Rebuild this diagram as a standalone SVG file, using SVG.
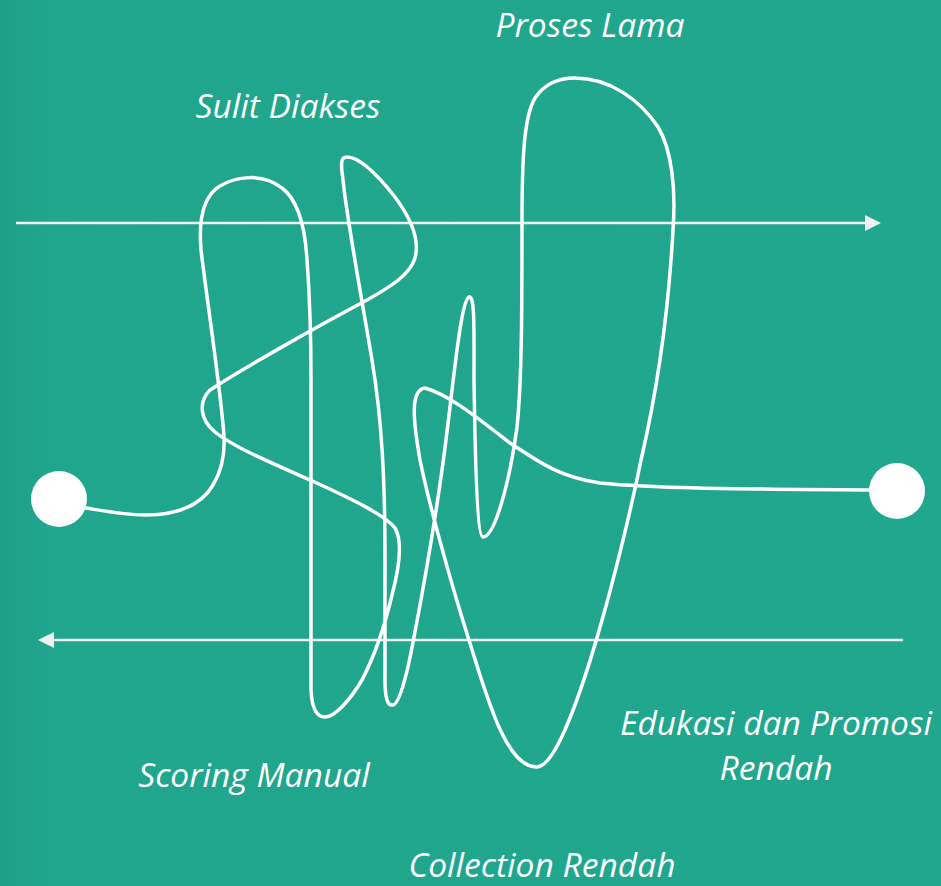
<svg xmlns="http://www.w3.org/2000/svg" width="941" height="886" viewBox="0 0 941 886">
  <defs>
    <linearGradient id="bg" x1="0" y1="0" x2="1" y2="0">
      <stop offset="0" stop-color="#1E9F87"/>
      <stop offset="0.05" stop-color="#20A68D"/>
      <stop offset="1" stop-color="#21A78E"/>
    </linearGradient>
    <marker id="head" viewBox="0 0 16 16" refX="1" refY="8" markerWidth="16" markerHeight="16" markerUnits="userSpaceOnUse" orient="auto">
      <path d="M0,0 L16,8 L0,16 Z" fill="#F0F0F0"/>
    </marker>
    <style>
      .arrow { stroke: #F0F0F0; stroke-width: 2.5; fill: none; }
      .curve { stroke: #FFFFFF; stroke-width: 3.5; fill: none; stroke-linecap: round; stroke-linejoin: round; }
      .dot { fill: #FFFFFF; }
      .label { font-family: "Open Sans", "Noto Sans", "Liberation Sans", sans-serif; font-style: italic; font-size: 33.6px; fill: #FFFFFF; text-anchor: middle; }
    </style>
  </defs>
  <rect width="941" height="886" fill="url(#bg)"/>

  <g id="connectors">
    <line class="arrow" x1="16" y1="223" x2="866" y2="223" marker-end="url(#head)"/>
    <line class="arrow" x1="903" y1="640" x2="53" y2="640" marker-end="url(#head)"/>
  </g>

  <g id="scribble">
    <path class="curve" d="M 86,508
      C 110,512 125,515 145,515
      C 175,515 200,507 213,485
      C 222,470 225,455 224,437
      C 222,400 207,300 201,250
      C 198,215 205,195 220,186
      C 235,177 262,172 282,188
      C 298,200 305,225 307,260
      C 310,300 311,330 311,380
      L 311,690
      C 312,712 318,717 325,717
      C 335,717 350,700 362,680
      C 375,655 385,625 392,595
      C 400,565 402,540 395,528
      C 385,515 350,498 310,480
      C 270,462 235,448 215,432
      C 200,420 198,402 210,390
      C 240,370 320,325 367,300
      C 390,287 410,275 415,258
      C 420,240 412,220 395,197
      C 380,178 360,157 347,157
      C 340,157 341,165 343,180
      C 347,220 362,300 372,360
      C 382,420 385,480 385,560
      L 385,680
      C 385,700 388,706 393,705
      C 400,704 408,670 414,637
      C 425,580 435,520 442,470
      C 452,400 460,300 469,297
      C 475,295 474,330 474,380
      C 475,450 477,537 483,537
      C 495,537 510,480 517,427
      C 522,380 522,300 522,220
      C 522,150 525,115 535,98
      C 545,83 560,78 575,78
      C 610,78 640,100 658,127
      C 672,150 676,190 673,230
      C 668,320 655,400 641,460
      C 625,540 570,766 537,767
      C 505,768 485,690 468,637
      C 450,580 428,500 420,460
      C 413,420 410,390 425,388
      C 450,395 480,420 510,443
      C 540,463 560,477 600,483
      C 650,488 720,489 870,490"/>
  </g>

  <g id="start"><circle class="dot" cx="59" cy="499" r="28"/></g>
  <g id="end"><circle class="dot" cx="897" cy="491" r="28"/></g>

  <g id="label-proses-lama"><text class="label" x="590" y="37">Proses Lama</text></g>
  <g id="label-sulit-diakses"><text class="label" x="288" y="118">Sulit Diakses</text></g>
  <g id="label-scoring-manual"><text class="label" x="254" y="787">Scoring Manual</text></g>
  <g id="label-edukasi"><text class="label" x="776" y="735">Edukasi dan Promosi</text><text class="label" x="776" y="780">Rendah</text></g>
  <g id="label-collection"><text class="label" x="542" y="877">Collection Rendah</text></g>
</svg>
